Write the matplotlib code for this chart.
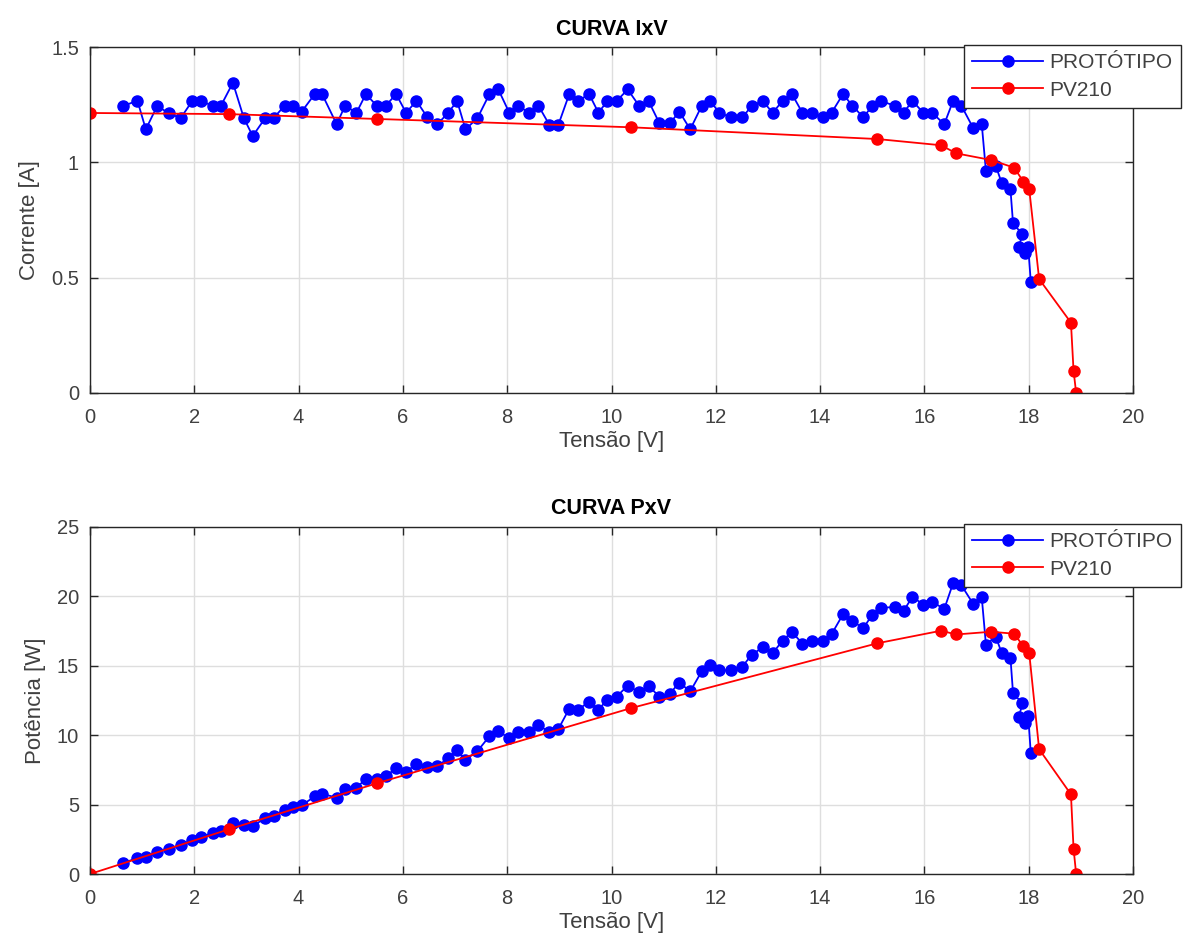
import numpy as np
import matplotlib
matplotlib.use('Agg')
import matplotlib.pyplot as plt

plt.rcParams['font.family'] = ['Liberation Sans', 'DejaVu Sans']

# prototipo: tensao [V] e corrente [A]
v_prot = [0.64, 0.91, 1.07, 1.29, 1.51, 1.74, 1.96, 2.13, 2.35, 2.51,
          2.74, 2.95, 3.12, 3.36, 3.52, 3.73, 3.90, 4.06, 4.31, 4.45,
          4.73, 4.89, 5.11, 5.29, 5.50, 5.67, 5.87, 6.06, 6.26, 6.47,
          6.66, 6.87, 7.04, 7.20, 7.43, 7.66, 7.83, 8.04, 8.21, 8.42,
          8.60, 8.81, 8.98, 9.19, 9.36, 9.57, 9.75, 9.92, 10.10, 10.31,
          10.53, 10.71, 10.92, 11.12, 11.30, 11.51, 11.73, 11.89, 12.07, 12.29,
          12.51, 12.69, 12.90, 13.09, 13.28, 13.46, 13.66, 13.84, 14.05, 14.22,
          14.44, 14.62, 14.83, 15.00, 15.16, 15.44, 15.60, 15.77, 15.98, 16.15,
          16.38, 16.55, 16.71, 16.94, 17.10, 17.18, 17.37, 17.48, 17.65, 17.70,
          17.88, 17.81, 17.93, 17.99, 18.04]
i_prot = [1.245, 1.267, 1.143, 1.245, 1.212, 1.192, 1.266, 1.266, 1.245, 1.245,
          1.345, 1.192, 1.114, 1.192, 1.192, 1.245, 1.245, 1.220, 1.296, 1.296,
          1.165, 1.245, 1.215, 1.296, 1.245, 1.245, 1.296, 1.215, 1.266, 1.195,
          1.165, 1.215, 1.266, 1.143, 1.192, 1.296, 1.316, 1.215, 1.245, 1.215,
          1.245, 1.162, 1.162, 1.296, 1.266, 1.296, 1.215, 1.266, 1.266, 1.316,
          1.245, 1.266, 1.169, 1.169, 1.220, 1.143, 1.245, 1.266, 1.215, 1.195,
          1.195, 1.245, 1.266, 1.215, 1.266, 1.296, 1.215, 1.215, 1.195, 1.215,
          1.296, 1.245, 1.195, 1.245, 1.266, 1.245, 1.215, 1.266, 1.215, 1.215,
          1.165, 1.266, 1.245, 1.147, 1.165, 0.962, 0.984, 0.912, 0.883, 0.735,
          0.688, 0.634, 0.605, 0.634, 0.483]

# modulo PV210
v_pv = [0.0, 2.67, 5.51, 10.37, 15.10, 16.32, 16.61, 17.28, 17.72, 17.90,
        18.01, 18.20, 18.81, 18.86, 18.91]
i_pv = [1.214, 1.209, 1.188, 1.152, 1.101, 1.074, 1.039, 1.010, 0.977, 0.916,
        0.884, 0.494, 0.305, 0.097, 0.0]

# potencia = tensao * corrente
p_prot = np.array(v_prot) * np.array(i_prot)
p_pv = np.array(v_pv) * np.array(i_pv)

W, H = 1183, 949
fig = plt.figure(figsize=(W / 100, H / 100), dpi=100)
ax1 = fig.add_axes([90 / W, 1 - 393 / H, 1043 / W, 346 / H])
ax2 = fig.add_axes([90 / W, 1 - 874 / H, 1043 / W, 347 / H])

txt = '#262626'
lbl = '#404040'
for ax, yp, pp, title, ylab, ylim, yt, leg_top in [
        (ax1, i_prot, i_pv, 'CURVA IxV', 'Corrente [A]', 1.5, [0, 0.5, 1, 1.5], 45),
        (ax2, p_prot, p_pv, 'CURVA PxV', 'Potência [W]', 25, [0, 5, 10, 15, 20, 25], 524)]:
    ax.plot(v_prot, yp, '-o', color='#0000ff', lw=1.3, ms=8, label='PROTÓTIPO')
    ax.plot(v_pv, pp, '-o', color='#ff0000', lw=1.3, ms=8, label='PV210')
    ax.set_xlim(0, 20)
    ax.set_ylim(0, ylim)
    ax.set_xticks(np.arange(0, 21, 2))
    ax.set_yticks(yt)
    ax.set_yticklabels([('%g' % t) for t in yt])
    ax.grid(True, color='#dedede', lw=1)
    ax.set_axisbelow(True)
    ax.tick_params(direction='in', length=6, width=1, labelsize=14.5, colors=txt,
                   labelcolor=lbl, top=True, right=True)
    ax.tick_params(axis='x', pad=11)
    ax.tick_params(axis='y', pad=8)
    for s in ax.spines.values():
        s.set_color(txt)
        s.set_linewidth(1)
        s.set_zorder(5)
    ax.set_title(title, fontsize=15.5, fontweight='bold', pad=9)
    ax.set_xlabel('Tensão [V]', fontsize=16, color=lbl, labelpad=3)
    ax.set_ylabel(ylab, fontsize=16, color=lbl, labelpad=8)
    leg = ax.legend(loc='upper right', bbox_to_anchor=(1181 / W, 1 - leg_top / H),
                    bbox_transform=fig.transFigure, fontsize=15, fancybox=False,
                    framealpha=1, edgecolor=txt, borderpad=0.4, handlelength=3.4,
                    handletextpad=0.3, labelspacing=0.4, borderaxespad=0)
    leg.get_frame().set_linewidth(1)
    leg.set_zorder(10)
    for t in leg.get_texts():
        t.set_color(lbl)

fig.savefig('out.png', dpi=100)
